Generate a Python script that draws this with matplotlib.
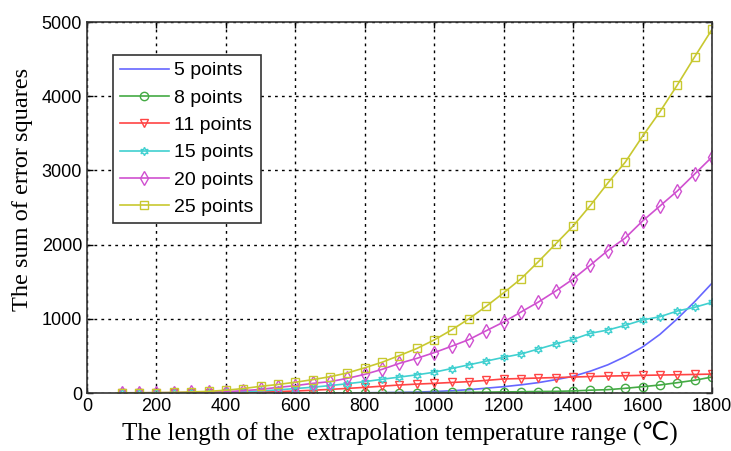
import matplotlib
matplotlib.use('Agg')
import matplotlib.pyplot as plt

# Extrapolation range (every 50 degrees)
temp = [100, 150, 200, 250, 300, 350, 400, 450, 500, 550, 600, 650, 700, 750,
        800, 850, 900, 950, 1000, 1050, 1100, 1150, 1200, 1250, 1300, 1350,
        1400, 1450, 1500, 1550, 1600, 1650, 1700, 1750, 1800]

# Sum of error squares
pts5 = [0, 0, 0, 0, 0, 0, 0, 0, 0, 0, 1, 1, 1, 2, 3, 5, 8, 12, 20, 30, 45,
        65, 85, 110, 140, 180, 225, 295, 380, 490, 620, 790, 1000, 1230, 1480]
pts8 = [0, 0, 0, 0, 0, 0, 0, 0, 0, 0, 1, 1, 1, 2, 2, 3, 4, 5, 6, 8, 10,
        12, 15, 17, 20, 22, 28, 38, 45, 63, 85, 108, 139, 172, 215]
pts11 = [0, 0, 1, 1, 2, 3, 5, 8, 13, 19, 27, 37, 49, 62, 76, 92, 108, 120,
         130, 142, 153, 170, 189, 195, 202, 208, 215, 222, 228, 233, 238,
         242, 246, 250, 255]
pts15 = [0, 0, 1, 2, 3, 6, 10, 18, 28, 42, 60, 78, 100, 125, 153, 185, 215,
         245, 280, 330, 380, 430, 481, 526, 593, 660, 723, 805, 849, 912,
         984, 1028, 1105, 1155, 1222]
pts20 = [3, 3, 4, 5, 8, 12, 18, 31, 49, 76, 99, 130, 153, 198, 251, 319, 400,
         467, 544, 630, 720, 840, 957, 1092, 1226, 1375, 1536, 1725, 1920,
         2089, 2318, 2520, 2722, 2951, 3180]
pts25 = [2, 3, 5, 8, 14, 22, 38, 60, 90, 115, 145, 180, 220, 270, 340, 415,
         505, 600, 715, 850, 1000, 1170, 1350, 1540, 1770, 2010, 2250, 2530,
         2830, 3110, 3460, 3790, 4150, 4530, 4900]

xticks = [0, 200, 400, 600, 800, 1000, 1200, 1400, 1600, 1800]
yticks = [0, 1000, 2000, 3000, 4000, 5000]

fig = plt.figure(figsize=(7.31, 4.51), dpi=100)
ax = fig.add_axes([0.119, 0.1286, 0.855, 0.8226])

ms = 6
ax.plot(temp, pts5, color='#6666ff', lw=1.2, label='5 points')
ax.plot(temp, pts8, color='#44aa44', lw=1.2, marker='o', ms=ms,
        mfc='none', label='8 points')
ax.plot(temp, pts11, color='#ff4444', lw=1.2, marker='v', ms=ms,
        mfc='none', label='11 points')
ax.plot(temp, pts15, color='#40d0d0', lw=1.2, marker=(6, 1, 0), ms=ms,
        mfc='none', label='15 points')
ax.plot(temp, pts20, color='#d050d0', lw=1.2, marker='d', ms=ms + 1,
        mfc='none', label='20 points')
ax.plot(temp, pts25, color='#c8c830', lw=1.2, marker='s', ms=ms,
        mfc='none', label='25 points')

ax.set_xlim(0, 1800)
ax.set_ylim(0, 5000)
ax.set_xticks(xticks)
ax.set_yticks(yticks)
ax.tick_params(direction='in', length=4, labelsize=13, width=1,
               top=True, right=True)
for lbl in ax.get_xticklabels() + ax.get_yticklabels():
    lbl.set_family('Liberation Sans')
ax.grid(True, color='black', linestyle=(0, (2, 3)), linewidth=1)
for s in ax.spines.values():
    s.set_color('#333333')
    s.set_linewidth(1.2)

ax.set_xlabel('The length of the  extrapolation temperature range (\u2103)',
              family=['Liberation Serif', 'DejaVu Sans'], fontsize=18,
              labelpad=4)
ax.set_ylabel('The sum of error squares', family='Liberation Serif',
              fontsize=17.5)
ax.yaxis.set_label_coords(-0.086, 0.548)

leg = ax.legend(loc='upper left', bbox_to_anchor=(0.042, 0.911),
                borderaxespad=0, fancybox=False, edgecolor='#333333',
                framealpha=1, prop={'family': 'Liberation Sans', 'size': 14},
                handlelength=2.5, handletextpad=0.3, labelspacing=0.5,
                borderpad=0.35)
leg.get_frame().set_linewidth(1.2)

fig.savefig('out.png', dpi=100)
